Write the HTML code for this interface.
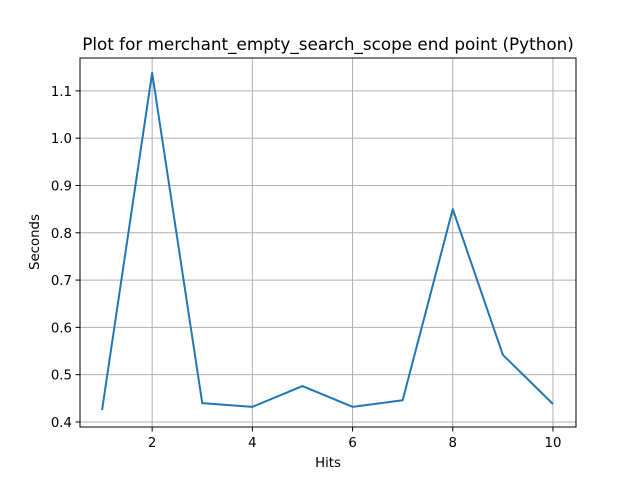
<!DOCTYPE html>
<html><head><meta charset="utf-8"><style>
body{margin:0;background:#fff;}
svg{display:block;font-family:"DejaVu Sans","Liberation Sans",sans-serif;}
</style></head><body>
<svg id="c" width="640" height="480" viewBox="0 0 640 480">
<rect width="640" height="480" fill="#fff"/>
<g id="grid"></g>
<polyline id="line" fill="none" stroke="#1f77b4" stroke-width="2" stroke-linejoin="round"/>
<rect x="80" y="58" width="496" height="369" fill="none" stroke="#000" stroke-width="1"/>
<g id="ticks" font-size="13.3" fill="#000"></g>
<text x="328" y="50" text-anchor="middle" font-size="16.8">Plot for merchant_empty_search_scope end point (Python)</text>
<text x="328" y="467" text-anchor="middle" font-size="13.3">Hits</text>
<text x="0" y="0" transform="translate(39,242) rotate(-90)" text-anchor="middle" font-size="13.3">Seconds</text>
</svg>
<script>
const hits=[1,2,3,4,5,6,7,8,9,10];
const seconds=[0.425,1.138,0.44,0.432,0.476,0.432,0.446,0.850,0.542,0.438];
const xTicks=[2,4,6,8,10];
const yTicks=[0.4,0.5,0.6,0.7,0.8,0.9,1.0,1.1];
const L=80,R=576,T=58,B=427;
const xMin=0.56,xMax=10.46,yMin=0.3894,yMax=1.1695;
const sx=v=>L+(v-xMin)/(xMax-xMin)*(R-L);
const sy=v=>B-(v-yMin)/(yMax-yMin)*(B-T);
const NS="http://www.w3.org/2000/svg";
const grid=document.getElementById('grid'),ticks=document.getElementById('ticks');
function mk(t,a,p){const e=document.createElementNS(NS,t);for(const k in a)e.setAttribute(k,a[k]);p.appendChild(e);return e;}
xTicks.forEach(v=>{const x=sx(v);
 const g=mk('line',{x1:x,x2:x,y1:T,y2:B,stroke:'#b0b0b0','stroke-width':1},grid);
 
 
 const t=mk('line',{x1:x,x2:x,y1:B,y2:B+4.5,stroke:'#000','stroke-width':1},ticks);
 
 
 const l=mk('text',{x:x,y:B+20,'text-anchor':'middle'},ticks);l.textContent=v;
 
 
});
yTicks.forEach(v=>{const y=sy(v);
 const g=mk('line',{x1:L,x2:R,y1:y,y2:y,stroke:'#b0b0b0','stroke-width':1},grid);
 
 
 const t=mk('line',{x1:L-4.5,x2:L,y1:y,y2:y,stroke:'#000','stroke-width':1},ticks);
 
 
 const l=mk('text',{x:L-8,y:y+5,'text-anchor':'end'},ticks);l.textContent=v.toFixed(1);
 
 
});
document.getElementById('line').setAttribute('points',hits.map((h,i)=>sx(h)+','+sy(seconds[i])).join(' '));
</script>
</body></html>
